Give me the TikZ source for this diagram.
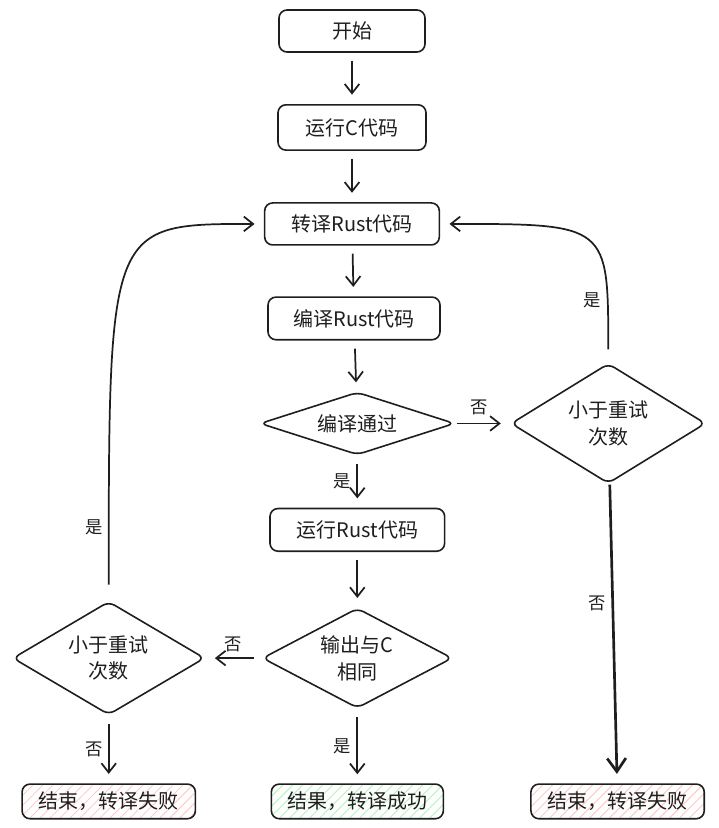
\documentclass[tikz,border=0pt]{standalone}
\usepackage{fontspec}
\setmainfont{Noto Sans CJK SC}
\usetikzlibrary{shapes.geometric, positioning, patterns.meta, arrows.meta}
\definecolor{ink}{HTML}{1E1E1E}
\definecolor{hatchred}{HTML}{FFC9C9}
\definecolor{hatchgreen}{HTML}{B2F2BB}

\begin{document}
\begin{tikzpicture}[
			x=0.75pt, y=-0.75pt,
			nodes = {
				align = center,
				text = ink,
				font = \fontsize{15pt}{20pt}\selectfont
			},
			block/.style={
				draw=ink,
				line width=1.2pt,
				rectangle,
				rounded corners=6pt,
				inner sep=2pt
			},
			decision/.style={
				draw=ink,
				line width=1.2pt,
				diamond,
				rounded corners=5pt,
				aspect=2,
				inner sep=0pt
			},
			final/.style={
				block,
				pattern={Lines[angle=45,distance=5.3pt,line width=0.7pt]},
				pattern color=#1
			},
			lines/.style={
				draw=ink,
				line width=1.3pt,
				shorten <=6pt,
				shorten >=7pt,
				>={Straight Barb[length=7pt,width=11pt]}
			},
			lbl/.style={
				font=\fontsize{13pt}{15pt}\selectfont,
				inner sep=4pt
			}
		]
			\useasboundingbox (0,0) rectangle (718,828);

			\node[block, minimum width=109.5pt, minimum height=31.5pt] (start) at (352,31) {开始};
			\node[block, minimum width=111pt, minimum height=34pt] (runc) [below=38.4pt of start] {运行C代码};
			\node[block, minimum width=131pt, minimum height=31.5pt] (trans) [below=38.4pt of runc] {转译Rust代码};
			\node[block, minimum width=129pt, minimum height=32pt] (comp) [below=37.9pt of trans, xshift=1.5pt] {编译Rust代码};

			\node[decision, minimum width=146pt, minimum height=47pt] (pass) [below=38.1pt of comp, xshift=2.5pt] {编译通过};
			\node[decision, minimum width=146pt, minimum height=90pt] (retry1) [right=41pt of pass] {小于重试\\次数};

			\node[block, minimum width=131pt, minimum height=32pt] (run) [below=39.1pt of pass] {运行Rust代码};
			\node[decision, minimum width=142.5pt, minimum height=75pt] (same) [below=41.5pt of run] {输出与C\\相同};
			\node[decision, minimum width=144pt, minimum height=85pt] (retry2) [left=42pt of same] {小于重试\\次数};

			\node[final=hatchgreen, minimum width=129pt, minimum height=26pt] (ok) [below=56pt of same] {结果，转译成功};
			\node[final=hatchred, minimum width=130pt, minimum height=26pt] (fail1) at (retry2 |- ok) {结束，转译失败};
			\node[final=hatchred, minimum width=130pt, minimum height=26pt, xshift=7pt] (fail2) at (retry1 |- ok) {结束，转译失败};

			\coordinate (c1) at (retry1 |- trans.east);
			\coordinate (c2) at (retry2 |- trans.west);

			\draw[lines,->] (start) -- (runc);
			\draw[lines,->] (runc) -- (trans);
			\draw[lines,->] (trans) -- (comp);
			\draw[lines,->] (comp) -- (pass);

			\draw[lines,->,shorten <=1pt] (pass) -- node[lbl,above,xshift=-3pt,yshift=2pt]{否} (retry1);
			\draw[lines,->] (pass) -- node[lbl,left]{是} (run);
			\draw[lines,->] (run) -- (same);

			\draw[lines,->] (same) -- node[lbl,above]{否} (retry2);
			\draw[lines,->] (same) -- node[lbl,left]{是} (ok);
			\draw[lines,->] (retry2) -- node[lbl,left]{否} (fail1);

			\draw[lines,->,line width=2pt,shorten <=1pt,>={Straight Barb[length=10pt,width=14pt]}] (retry1) -- node[lbl,left,pos=0.4]{否} (fail2);

			\draw[lines,->,shorten <=10pt] (retry1.north) .. controls (c1) and (c1) .. (trans.east) node[lbl,left,pos=0.18]{是};
			\draw[lines,->,shorten <=12pt] (retry2.north) .. controls (c2) and (c2) .. (trans.west) node[lbl,left,pos=0.07]{是};

		\end{tikzpicture}
\end{document}
